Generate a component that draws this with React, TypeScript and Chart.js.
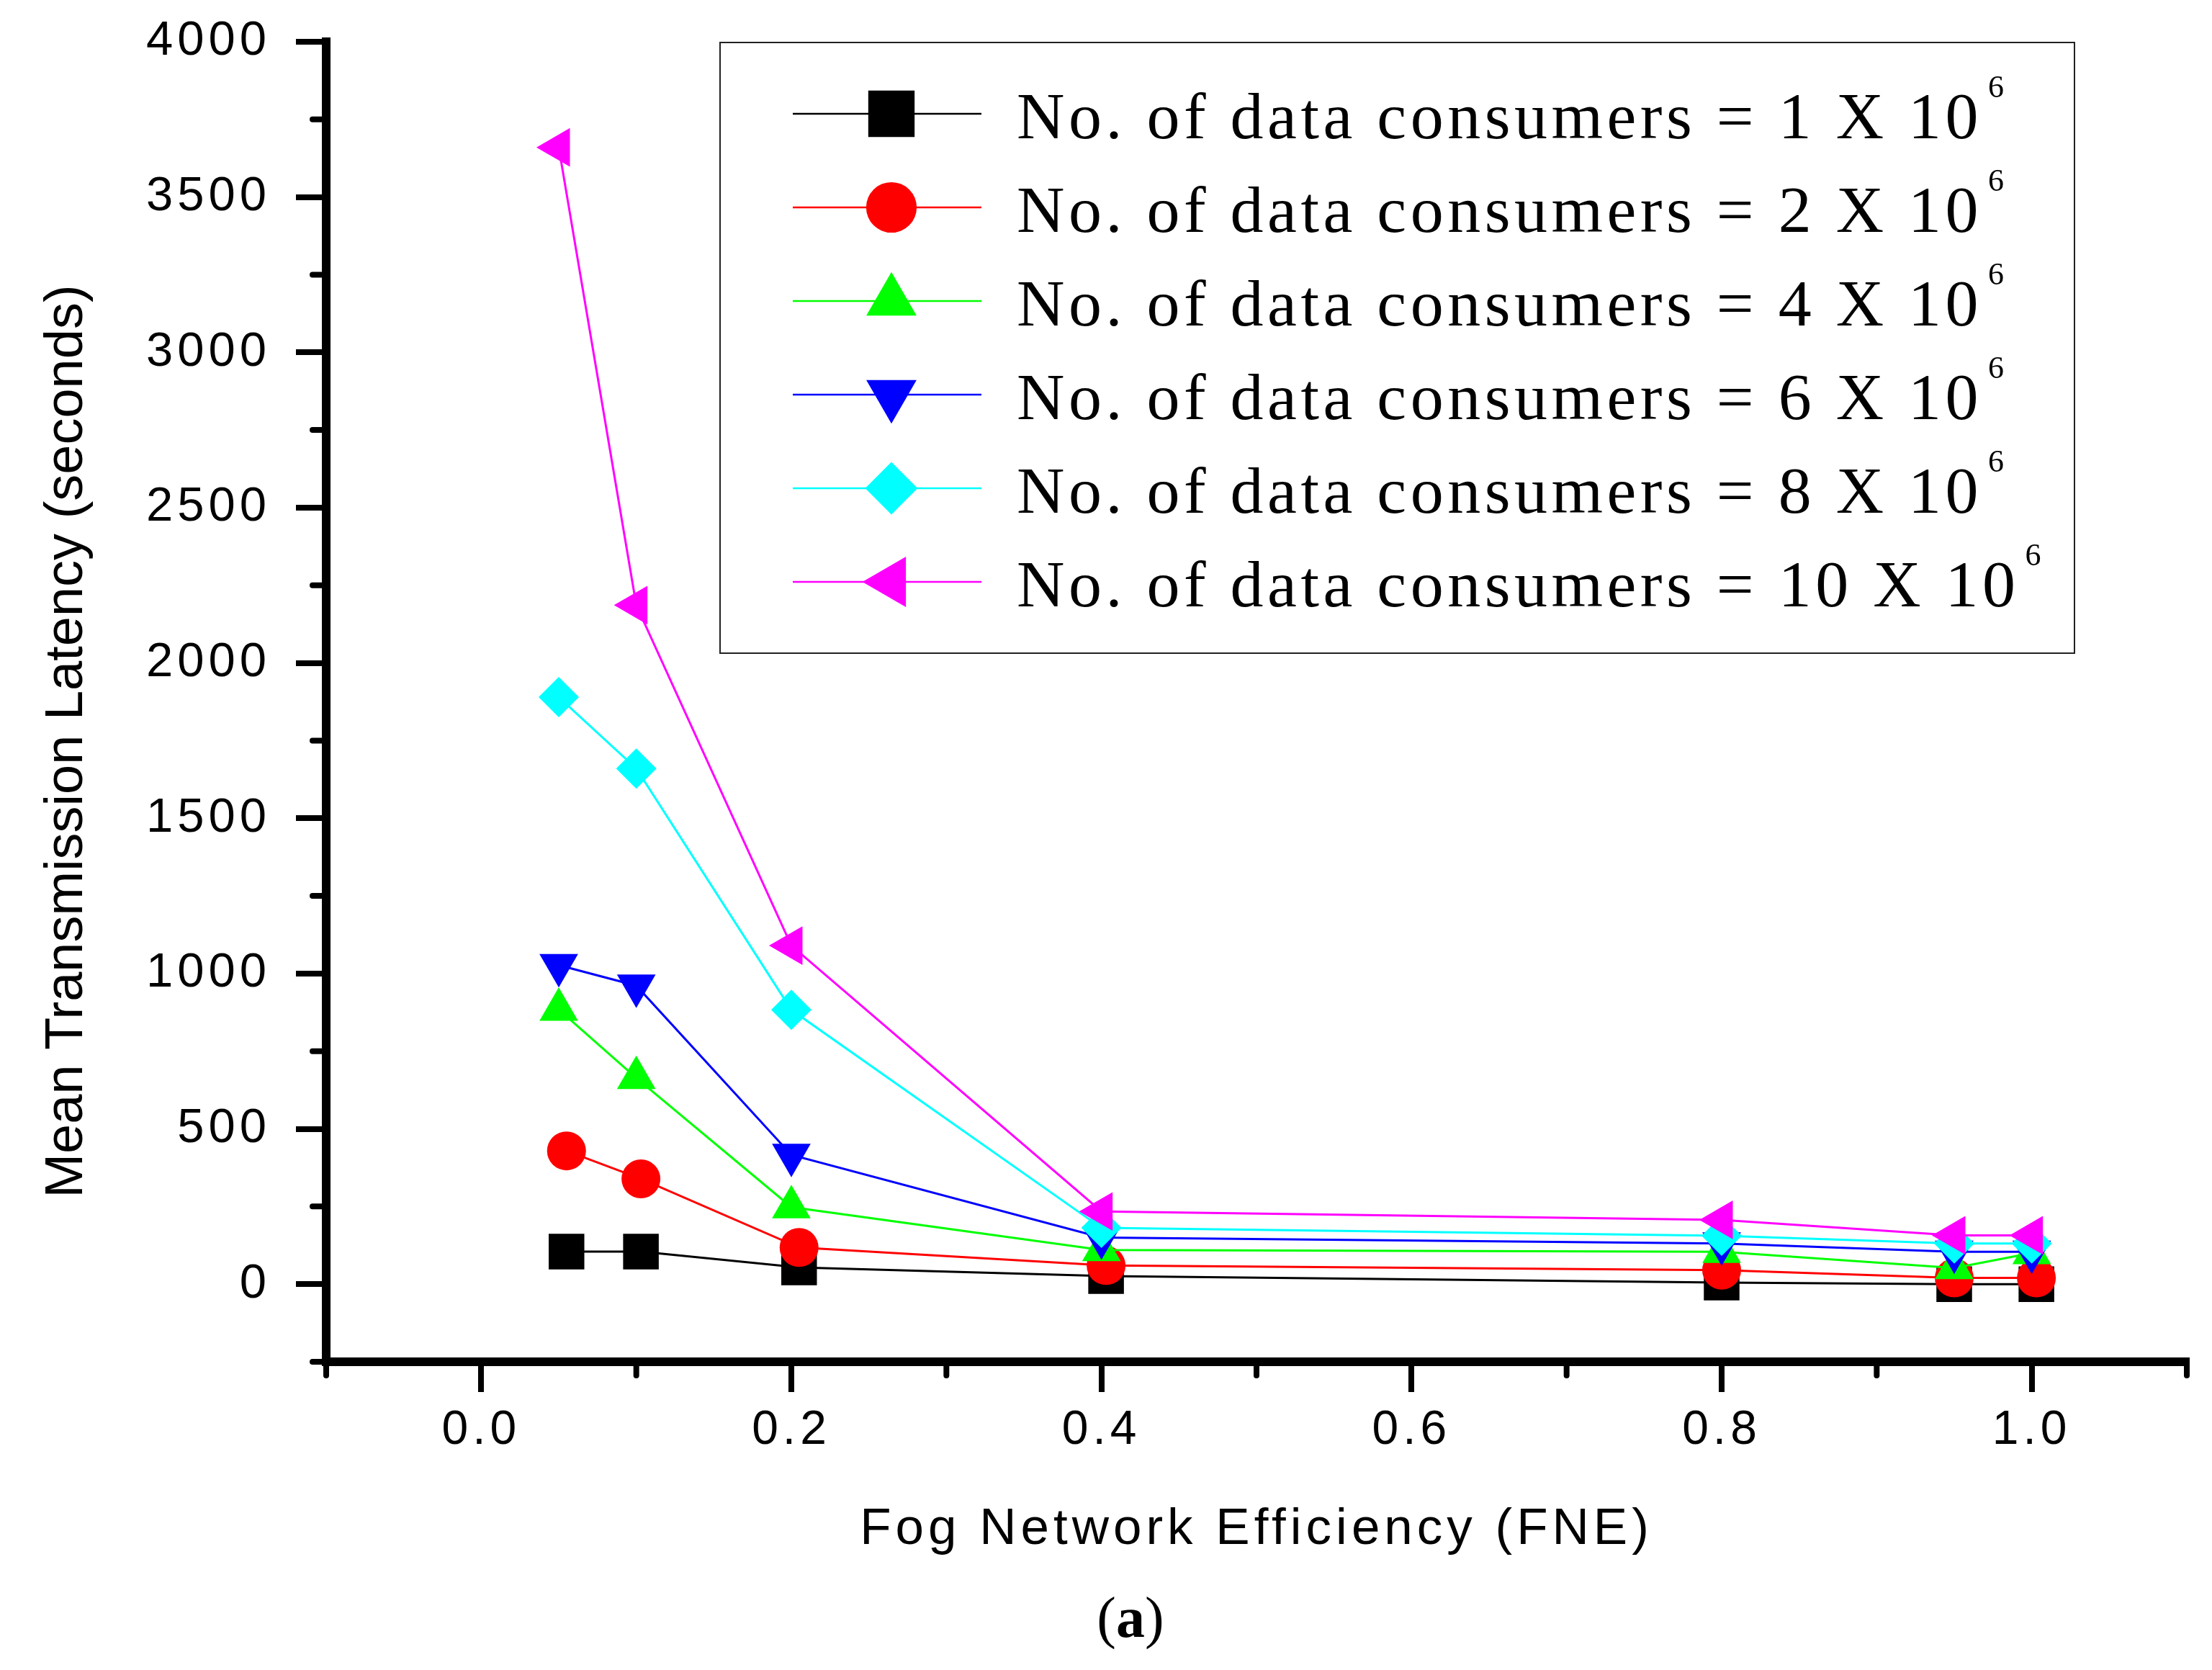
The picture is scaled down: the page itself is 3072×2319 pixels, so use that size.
import React, { useEffect, useRef } from 'react';
import { Chart, registerables } from 'chart.js';
import { drawPoint } from 'chart.js/helpers';

Chart.register(...registerables);

// FNE values; the 1x and 2x series sit a touch to the right in the figure
const fneValues = [0.05, 0.1, 0.2, 0.4, 0.8, 0.95, 1.0];
const fneValuesShifted = [0.055, 0.103, 0.205, 0.403, 0.8, 0.95, 1.003];

const consumerCounts = ['1', '2', '4', '6', '8', '10'];

// mean transmission latency (seconds)
const latency1M = [105, 105, 54, 26, 5, 0, 0];
const latency2M = [429, 339, 118, 60, 45, 20, 20];
const latency4M = [884, 664, 248, 110, 104, 52, 100];
const latency6M = [1027, 961, 416, 150, 131, 104, 104];
const latency8M = [1890, 1660, 883, 181, 156, 131, 131];
const latency10M = [3660, 2186, 1090, 234, 207, 157, 157];

const xMajorTicks = [0, 0.2, 0.4, 0.6, 0.8, 1.0];
const xMinorTicks = [-0.1, 0.1, 0.3, 0.5, 0.7, 0.9, 1.1];
const yMajorTicks = [0, 500, 1000, 1500, 2000, 2500, 3000, 3500, 4000];
const yMinorTicks = [-250, 250, 750, 1250, 1750, 2250, 2750, 3250, 3750];

const seriesValues = [latency1M, latency2M, latency4M, latency6M, latency8M, latency10M];
const seriesX = [fneValuesShifted, fneValuesShifted, fneValues, fneValues, fneValues, fneValues];

const SERIES_STYLE = [
  { color: '#000000', pointStyle: 'rect', rotation: 0, radius: 35 },
  { color: '#ff0000', pointStyle: 'circle', rotation: 0, radius: 27 },
  { color: '#00ff00', pointStyle: 'triangle', rotation: 0, radius: 31 },
  { color: '#0000ff', pointStyle: 'triangle', rotation: 180, radius: 31 },
  { color: '#00ffff', pointStyle: 'rectRot', rotation: 0, radius: 28 },
  { color: '#ff00ff', pointStyle: 'triangle', rotation: 270, radius: 31 },
];

const WIDTH = 3072;
const HEIGHT = 2319;
const SANS = '"Liberation Sans", Arial, sans-serif';
const SERIF = '"Liberation Serif", "Times New Roman", serif';

const spacingPlugin = {
  id: 'spacing',
  beforeDraw(chart: any) {
    chart.ctx.letterSpacing = '6px';
  },
};

const minorTicksPlugin = {
  id: 'minorTicks',
  beforeDatasetsDraw(chart: any) {
    const { ctx, chartArea, scales } = chart;
    ctx.save();
    ctx.strokeStyle = '#000';
    ctx.lineWidth = 8;
    ctx.lineCap = 'round';
    xMinorTicks.forEach((v) => {
      const px = scales.x.getPixelForValue(v);
      ctx.beginPath();
      ctx.moveTo(px, chartArea.bottom);
      ctx.lineTo(px, chartArea.bottom + 19);
      ctx.stroke();
    });
    yMinorTicks.forEach((v) => {
      const py = scales.y.getPixelForValue(v);
      ctx.beginPath();
      ctx.moveTo(chartArea.left, py);
      ctx.lineTo(chartArea.left - 19, py);
      ctx.stroke();
    });
    ctx.restore();
  },
};

const decorPlugin = {
  id: 'decor',
  afterDraw(chart: any) {
    const { ctx, chartArea } = chart;
    ctx.save();

    // y axis title
    ctx.letterSpacing = '0px';
    ctx.translate(chartArea.left - 359, (chartArea.top + chartArea.bottom) / 2 + 55);
    ctx.rotate(-Math.PI / 2);
    ctx.font = `74px ${SANS}`;
    ctx.fillStyle = '#000';
    ctx.textAlign = 'center';
    ctx.textBaseline = 'middle';
    ctx.fillText('Mean Transmission Latency (seconds)', 0, 0);
    ctx.restore();

    // legend box
    ctx.save();
    ctx.letterSpacing = '0px';
    const boxLeft = chartArea.left + 547;
    const boxTop = chartArea.top + 1;
    ctx.strokeStyle = '#222';
    ctx.lineWidth = 2;
    ctx.strokeRect(boxLeft, boxTop, 1881, 848);

    chart.data.datasets.forEach((ds: any, i: number) => {
      const st = SERIES_STYLE[i];
      const cy = boxTop + 99 + i * 130;
      ctx.strokeStyle = st.color;
      ctx.lineWidth = 2.5;
      ctx.beginPath();
      ctx.moveTo(boxLeft + 101, cy);
      ctx.lineTo(boxLeft + 363, cy);
      ctx.stroke();

      ctx.fillStyle = st.color;
      drawPoint(ctx, { pointStyle: st.pointStyle, rotation: st.rotation, radius: st.radius * 1.3, borderWidth: 0 } as any, boxLeft + 238, cy);

      ctx.fillStyle = '#000';
      ctx.textAlign = 'left';
      ctx.textBaseline = 'alphabetic';
      ctx.font = `92px ${SERIF}`;
      ctx.letterSpacing = '5.5px';
      const text = `No. of data consumers = ${consumerCounts[i]} X 10`;
      ctx.fillText(text, boxLeft + 412, cy + 34);
      const w = ctx.measureText(text).width;
      ctx.font = `44px ${SERIF}`;
      ctx.letterSpacing = '0px';
      ctx.fillText('6', boxLeft + 412 + w + 8, cy + 34 - 57);
    });
    ctx.restore();
    ctx.letterSpacing = '0px';
  },
};

export default function App() {
  const canvasRef = useRef<HTMLCanvasElement>(null);

  useEffect(() => {
    if (!canvasRef.current) return;

    const datasets = SERIES_STYLE.map((st, i) => ({
      label: `No. of data consumers = ${consumerCounts[i]} X 10⁶`,
      data: seriesX[i].map((x, j) => ({ x, y: seriesValues[i][j] })),
      borderColor: st.color,
      backgroundColor: st.color,
      pointBackgroundColor: st.color,
      pointBorderColor: st.color,
      pointBorderWidth: 0,
      pointStyle: st.pointStyle,
      pointRotation: st.rotation,
      pointRadius: st.radius,
      borderWidth: 3,
      tension: 0,
      order: 6 - i,
    }));

    const chart = new Chart(canvasRef.current, {
      type: 'line',
      data: { datasets } as any,
      options: {
        animation: false,
        responsive: false,
        devicePixelRatio: 1,
        layout: { padding: { left: 0, right: 31, top: 58, bottom: 0 } },
        plugins: {
          legend: { display: false },
          tooltip: { enabled: false },
        },
        scales: {
          x: {
            type: 'linear',
            min: -0.1,
            max: 1.1,
            afterBuildTicks: (scale: any) => {
              scale.ticks = xMajorTicks.map((v) => ({ value: v }));
            },
            afterFit: (scale: any) => {
              scale.height = HEIGHT - 1891;
              scale.paddingLeft = 0;
              scale.paddingRight = 0;
            },
            grid: { drawOnChartArea: false, tickLength: 42, tickWidth: 8, tickColor: '#000', lineWidth: 8 },
            border: { display: true, color: '#000', width: 12 },
            ticks: {
              color: '#000',
              font: { family: SANS, size: 66 },
              padding: 14,
              maxRotation: 0,
              autoSkip: false,
              callback: (v: any) => Number(v).toFixed(1),
            },
            title: {
              display: true,
              text: 'Fog Network Efficiency (FNE)',
              color: '#000',
              font: { family: SANS, size: 71 },
              padding: { top: 0, bottom: 152 },
            },
          },
          y: {
            type: 'linear',
            min: -250,
            max: 4000,
            afterBuildTicks: (scale: any) => {
              scale.ticks = yMajorTicks.map((v) => ({ value: v }));
            },
            afterFit: (scale: any) => {
              scale.width = 453;
              scale.paddingTop = 0;
              scale.paddingBottom = 0;
            },
            grid: { drawOnChartArea: false, tickLength: 42, tickWidth: 8, tickColor: '#000', lineWidth: 8 },
            border: { display: true, color: '#000', width: 12 },
            ticks: {
              color: '#000',
              font: { family: SANS, size: 67 },
              padding: 35,
              autoSkip: false,
              callback: (v: any) => String(v),
            },
          },
        },
      },
      plugins: [spacingPlugin, minorTicksPlugin, decorPlugin],
    } as any);

    return () => chart.destroy();
  }, []);

  return (
    <div style={{ position: 'absolute', left: 0, top: 0, width: WIDTH, height: HEIGHT, background: '#fff' }}>
      <canvas ref={canvasRef} width={WIDTH} height={HEIGHT} style={{ display: 'block' }} />
      <div
        style={{
          position: 'absolute',
          left: 1370,
          top: 2206,
          width: 400,
          textAlign: 'center',
          fontFamily: SERIF,
          fontSize: 80,
          lineHeight: 1,
          color: '#000',
        }}
      >
        (<b>a</b>)
      </div>
    </div>
  );
}
